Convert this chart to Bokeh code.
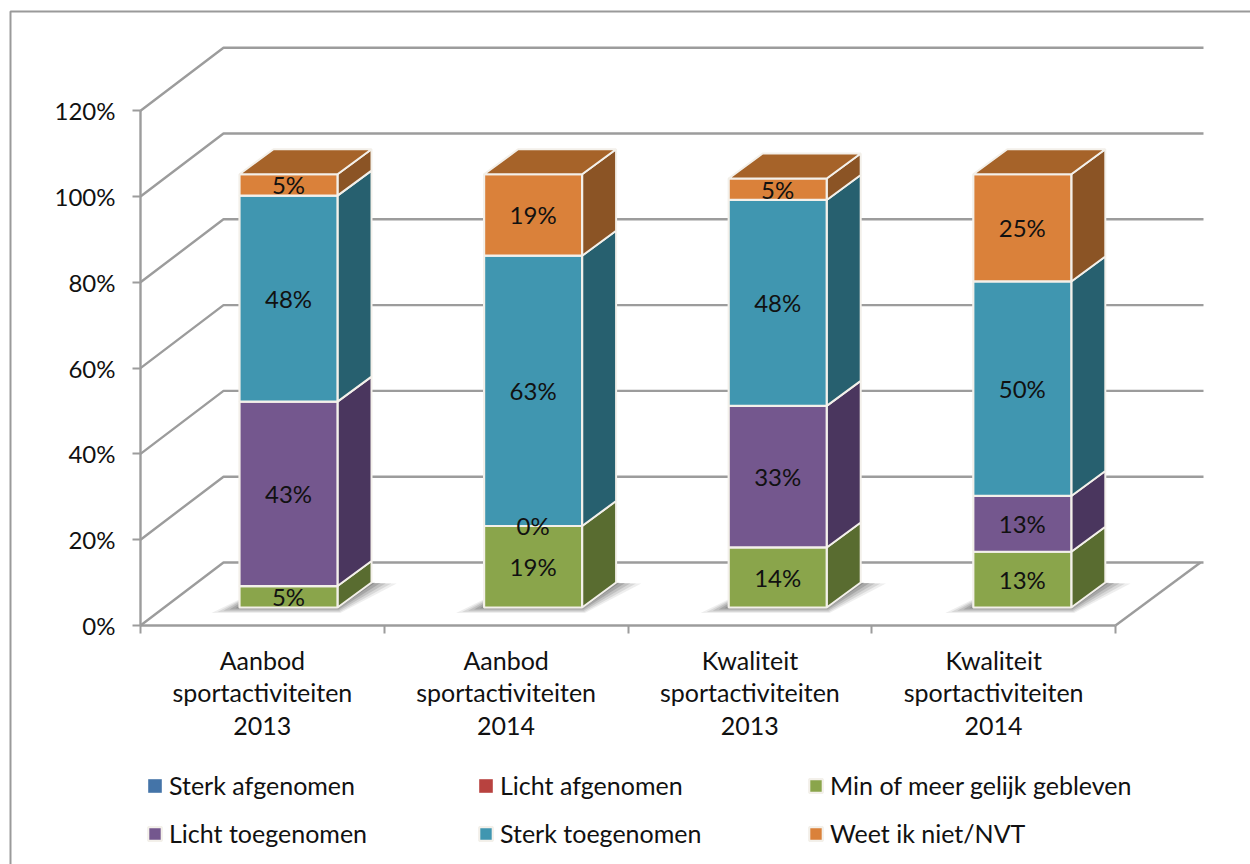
from bokeh.embed import file_html
from bokeh.resources import INLINE
from bokeh.plotting import figure
from bokeh.models import Range1d, LinearAxis, FixedTicker, Legend, LegendItem
from bokeh.core.properties import value

categories = ["Aanbod\nsportactiviteiten\n2013", "Aanbod\nsportactiviteiten\n2014",
              "Kwaliteit\nsportactiviteiten\n2013", "Kwaliteit\nsportactiviteiten\n2014"]
sterk_afgenomen = [0, 0, 0, 0]
licht_afgenomen = [0, 0, 0, 0]
gelijk = [5, 19, 14, 13]
licht_toegenomen = [43, 0, 33, 13]
sterk_toegenomen = [48, 63, 48, 50]
weet_niet = [5, 19, 5, 25]
series_names = ["Sterk afgenomen", "Licht afgenomen", "Min of meer gelijk gebleven",
                "Licht toegenomen", "Sterk toegenomen", "Weet ik niet/NVT"]
series_values = [sterk_afgenomen, licht_afgenomen, gelijk, licht_toegenomen, sterk_toegenomen, weet_niet]
front_colors = ["#4474a8", "#b8423f", "#8aa54b", "#74578e", "#4096b0", "#da813a"]
side_colors = ["#2d4d70", "#7a2c2a", "#596c30", "#4a365e", "#27606f", "#8b5425"]
y_ticks = [0, 20, 40, 60, 80, 100, 120]

FONT = "Lato"
PX_X, PX_Y = 243.75, 4.29          # pixels per data unit
W, H = 1250, 864
ORIGIN_X, ORIGIN_Y = 140, 625      # where (0, 0) falls on the page
GRID = "#9c9c9c"
EDGE = "#f3f0ea"

wall_dx, wall_dy = 83 / PX_X, 63 / PX_Y     # depth of the chart box at its left end
floor_dx = 85 / PX_X                        # depth of the chart box at its right end
wall_end = 88 / PX_X
bar_dx, bar_dy = 34 / PX_X, 25 / PX_Y       # depth of one bar
off_dx, off_dy = 148 / PX_X, 18 / PX_Y      # centre of the first bar, foot of the bars
bar_step = 244.6 / PX_X
bar_w = 98 / PX_X

p = figure(width=W, height=H, output_backend="svg", toolbar_location=None,
           x_range=Range1d(-ORIGIN_X / PX_X, (W - ORIGIN_X) / PX_X),
           y_range=Range1d(-(H - ORIGIN_Y) / PX_Y, ORIGIN_Y / PX_Y),
           x_axis_location=None, y_axis_location=None,
           min_border_left=0, min_border_right=0, min_border_top=0, min_border_bottom=0,
           outline_line_color=None, background_fill_color="white")
p.grid.visible = False

# outer chart border, running off the page at the right and the bottom
border_x = (10 - ORIGIN_X) / PX_X
border_y = (ORIGIN_Y - 11) / PX_Y
p.line([border_x, border_x, (W + 20 - ORIGIN_X) / PX_X],
       [-(H + 20 - ORIGIN_Y) / PX_Y, border_y, border_y], line_color="#9a9a9a", line_width=2)

# walls and floor
n = len(categories)
for t in y_ticks:
    p.line([0, wall_dx, n + wall_end], [t, t + wall_dy, t + wall_dy], line_color=GRID, line_width=2.4)
p.line([n, n + floor_dx], [0, wall_dy], line_color=GRID, line_width=2.4)

y_axis = LinearAxis(ticker=FixedTicker(ticks=y_ticks), bounds=(0, 120), fixed_location=0)
y_axis.major_label_overrides = {t: f"{t}%" for t in y_ticks}
y_axis.axis_line_color = GRID
y_axis.axis_line_width = 2.4
y_axis.major_tick_line_color = GRID
y_axis.major_tick_line_width = 2
y_axis.major_tick_in = 0
y_axis.major_tick_out = 8
y_axis.minor_tick_line_color = None
y_axis.major_label_standoff = 17
y_axis.major_label_text_font = FONT
y_axis.major_label_text_font_size = "24px"
y_axis.major_label_text_color = "#111111"
p.add_layout(y_axis, "left")

x_axis = LinearAxis(ticker=FixedTicker(ticks=[i + 0.5 for i in range(n)], minor_ticks=list(range(n + 1))),
                    bounds=(0, n), fixed_location=0)
x_axis.major_label_overrides = {i + 0.5: c for i, c in enumerate(categories)}
x_axis.axis_line_color = GRID
x_axis.axis_line_width = 2.4
x_axis.major_tick_line_color = None
x_axis.minor_tick_line_color = GRID
x_axis.minor_tick_line_width = 2
x_axis.minor_tick_in = 0
x_axis.minor_tick_out = 8
x_axis.major_label_standoff = 11
x_axis.major_label_text_font = FONT
x_axis.major_label_text_font_size = "25px"
x_axis.major_label_text_color = "#111111"
x_axis.major_label_text_line_height = 1.09
p.add_layout(x_axis, "below")

# bar geometry from the data
lefts = [off_dx + i * bar_step - bar_w / 2 for i in range(n)]
rights = [l + bar_w for l in lefts]

# soft shadows on the floor
for grow, alpha in [(28, 0.1), (22, 0.14), (16, 0.18), (10, 0.24), (4, 0.3)]:
    gx, gy = grow / PX_X, grow * 0.2 / PX_Y
    p.patches([[l - gx, r + gx * 0.1, r + bar_dx + gx * 0.9, l + bar_dx] for l, r in zip(lefts, rights)],
              [[off_dy - gy, off_dy - gy, off_dy + bar_dy - gy * 0.2, off_dy + bar_dy] for _ in lefts],
              fill_color="#555555", fill_alpha=alpha, line_color=None)

running = [off_dy] * n
legend_items = []
label_x, label_y, label_t = [], [], []
for name, vals, fc, sc in zip(series_names, series_values, front_colors, side_colors):
    bottoms = list(running)
    tops = [b + v for b, v in zip(bottoms, vals)]
    running = tops
    shown = [i for i, v in enumerate(vals) if v > 0]
    p.patches([[rights[i], rights[i] + bar_dx, rights[i] + bar_dx, rights[i]] for i in shown],
              [[bottoms[i], bottoms[i] + bar_dy, tops[i] + bar_dy, tops[i]] for i in shown],
              fill_color=sc, line_color=EDGE, line_width=2)
    r = p.quad(left=lefts, right=rights, bottom=bottoms, top=tops, fill_color=fc,
               line_color=EDGE, line_width=2.2, line_alpha=[1 if v > 0 else 0 for v in vals])
    legend_items.append(LegendItem(label=name, renderers=[r]))

# tops of the stacks
p.patches([[l, r, r + bar_dx, l + bar_dx] for l, r in zip(lefts, rights)],
          [[t, t, t + bar_dy, t + bar_dy] for t in running],
          fill_color="#a66329", line_color=EDGE, line_width=2)

# data labels
running = [off_dy] * n
for name, vals in zip(series_names, series_values):
    if name in ("Sterk afgenomen", "Licht afgenomen"):
        continue
    for i, v in enumerate(vals):
        label_x.append(lefts[i] + bar_w / 2)
        label_y.append(running[i] + v / 2)
        label_t.append(f"{v}%")
        running[i] += v
p.text(label_x, label_y, text=label_t, text_align="center", text_baseline="middle",
       text_font=value(FONT), text_font_size="24px", text_color="#111111")

# legend: one column per group
column_x = [146, 477, 807]
for col, x in enumerate(column_x):
    lg = Legend(items=[legend_items[col], legend_items[col + 3]], location=(x, 16),
                orientation="vertical", border_line_color=None, background_fill_alpha=0,
                margin=0, padding=0, spacing=18, glyph_width=17, glyph_height=17, label_standoff=6,
                label_text_font=FONT, label_text_font_size="25px", label_text_color="#111111",
                label_height=25)
    p.add_layout(lg, "center")

open("out.html", "w").write(file_html(p, INLINE))
